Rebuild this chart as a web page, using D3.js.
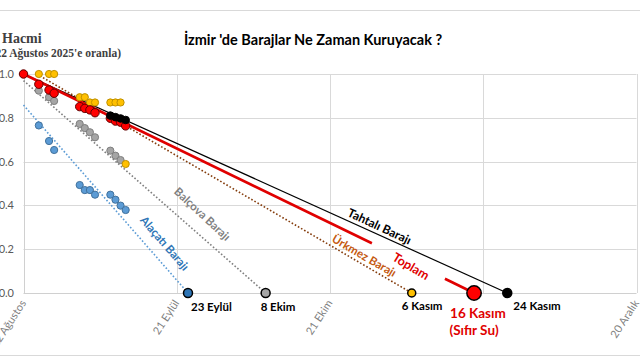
<!DOCTYPE html>
<html><head><meta charset="utf-8">
<script src="https://cdn.jsdelivr.net/npm/d3@7/dist/d3.min.js"></script>
<style>html,body{margin:0;padding:0;background:#fff;}svg{display:block;}</style>
</head><body>
<svg id="c" width="640" height="360"></svg>
<script>
// days since 22 Ağustos 2025
const days = [0, 3, 5, 6, 11, 12, 13, 14, 17, 18, 19, 20];
const toplam  = [1.0, 0.953, 0.927, 0.912, 0.851, 0.843, 0.836, 0.823, 0.798, 0.785, 0.78, 0.763];
const tahtali = [1.0, 0.955, 0.93, 0.915, 0.858, 0.85, 0.843, 0.835, 0.81, 0.803, 0.797, 0.79];
const balcovaDays = [0, 3, 5, 6, 11, 12, 13, 14, 17, 18, 19];
const balcova = [1.0, 0.924, 0.894, 0.877, 0.772, 0.753, 0.734, 0.711, 0.65, 0.627, 0.607];
const urkmezDays = [3, 5, 6, 11, 12, 13, 14, 17, 18, 19, 20];
const urkmez = [1.0, 1.0, 1.0, 0.894, 0.894, 0.87, 0.87, 0.87, 0.87, 0.87, 0.589];
const alacatiDays = [3, 5, 6, 11, 12, 13, 14, 17, 18, 19, 20];
const alacati = [0.765, 0.694, 0.653, 0.493, 0.47, 0.47, 0.449, 0.449, 0.426, 0.399, 0.379];

// projection lines [day, value]
const alacatiTrend = [[0, 0.858], [32.2, 0]];
const balcovaTrend = [[0, 0.97], [47.4, 0]];
const urkmezTrend = [[2.6, 1.0], [76, 0]];
const tahtaliTrend = [[0, 1.0], [94.7, 0]];
const toplamTrendSegments = [[[0, 1.0], [68.2, 0.227]], [[82.5, 0.065], [88.2, 0]]];

// dry-out end points
const endDays = [32.2, 47.4, 76, 88.2, 94.7];
const endLabels = ["23 Eylül", "8 Ekim", "6 Kasım", "16 Kasım", "24 Kasım"];

const xTicks = [0, 30, 60, 90, 120];
const xTickLabels = ["22 Ağustos", "21 Eylül", "21 Ekim", "", "20 Aralık"];
const yTicks = [0, 0.2, 0.4, 0.6, 0.8, 1.0];

const svg = d3.select("#c");
const W = 640, H = 360;
const x = d3.scaleLinear().domain([0, 120]).range([23.5, 636.5]);
const y = d3.scaleLinear().domain([0, 1]).range([293, 74]);

// frame lines
svg.append("line").attr("x1", 0).attr("x2", W).attr("y1", 10.5).attr("y2", 10.5).attr("stroke", "#d9d9d9");
svg.append("line").attr("x1", 0).attr("x2", W).attr("y1", 355.5).attr("y2", 355.5).attr("stroke", "#d9d9d9");

// gridlines
const g = svg.append("g");
g.selectAll(".hg").data(yTicks.filter(d => d > 0)).join("line")
  .attr("x1", x(0)).attr("x2", x(120)).attr("y1", d => Math.round(y(d)) + 0.5).attr("y2", d => Math.round(y(d)) + 0.5)
  .attr("stroke", "#d9d9d9").attr("stroke-width", 1);
g.selectAll(".vg").data(xTicks.filter(d => d > 0)).join("line")
  .attr("x1", d => Math.round(x(d)) + 0.5).attr("x2", d => Math.round(x(d)) + 0.5).attr("y1", y(1)).attr("y2", y(0))
  .attr("stroke", "#d9d9d9").attr("stroke-width", 1);
// axes lines
g.append("line").attr("x1", x(0)).attr("x2", x(120)).attr("y1", Math.round(y(0)) + 0.5).attr("y2", Math.round(y(0)) + 0.5).attr("stroke", "#d0d0d0");
g.append("line").attr("x1", Math.round(x(0)) + 0.5).attr("x2", Math.round(x(0)) + 0.5).attr("y1", y(1)).attr("y2", y(0)).attr("stroke", "#d0d0d0");

// y tick labels
svg.selectAll(".yl").data(yTicks).join("text")
  .attr("x", 14).attr("y", d => y(d) + 4)
  .attr("text-anchor", "end").attr("font-family", "Lato, sans-serif").attr("font-size", 11).attr("fill", "#595959")
  .text(d => d.toFixed(1));

// x tick labels rotated
svg.selectAll(".xl").data(xTicks.map((d, i) => ({d, t: xTickLabels[i]})).filter(o => o.t)).join("text")
  .attr("transform", o => `translate(${x(o.d) + 3},${303}) rotate(-57)`)
  .attr("text-anchor", "end").attr("font-family", "Lato, sans-serif").attr("font-size", 11).attr("fill", "#7f7f7f")
  .text(o => o.t);

// titles
svg.append("text").attr("x", 313).attr("y", 45).attr("text-anchor", "middle")
  .attr("font-family", "Lato, sans-serif").attr("font-weight", "bold").attr("font-size", 14.5).attr("fill", "#000")
  .text("İzmir 'de Barajlar Ne Zaman Kuruyacak ?");
svg.append("text").attr("x", 2).attr("y", 43)
  .attr("font-family", "'Liberation Serif', serif").attr("font-weight", "bold").attr("font-size", 14).attr("fill", "#404040")
  .text("Hacmi");
svg.append("text").attr("x", 121).attr("y", 57).attr("text-anchor", "end")
  .attr("font-family", "'Liberation Serif', serif").attr("font-weight", "bold").attr("font-size", 11.5).attr("fill", "#404040")
  .text("(22 Ağustos 2025'e oranla)");

const line = d3.line().x(d => x(d[0])).y(d => y(d[1]));

// projection lines
svg.append("path").attr("d", line(alacatiTrend)).attr("fill", "none").attr("stroke", "#5b9bd5").attr("stroke-width", 1.6).attr("stroke-dasharray", "1.6,2");
svg.append("path").attr("d", line(balcovaTrend)).attr("fill", "none").attr("stroke", "#7f7f7f").attr("stroke-width", 1.6).attr("stroke-dasharray", "1.6,2");
svg.append("path").attr("d", line(urkmezTrend)).attr("fill", "none").attr("stroke", "#843c0c").attr("stroke-width", 1.6).attr("stroke-dasharray", "1.6,2");
svg.append("path").attr("d", line(tahtaliTrend)).attr("fill", "none").attr("stroke", "#000").attr("stroke-width", 1.2);
toplamTrendSegments.forEach(s => {
  svg.append("path").attr("d", line(s)).attr("fill", "none").attr("stroke", "#e00000").attr("stroke-width", 2.6);
});

function dots(xs, vs, fill, stroke, r) {
  svg.append("g").selectAll("circle").data(vs).join("circle")
    .attr("cx", (d, i) => x(xs[i])).attr("cy", d => y(d)).attr("r", r)
    .attr("fill", fill).attr("stroke", stroke).attr("stroke-width", 1);
}
dots(alacatiDays, alacati, "#5b9bd5", "#41719c", 3.6);
dots(balcovaDays, balcova, "#a5a5a5", "#7f7f7f", 3.6);
dots(urkmezDays, urkmez, "#ffc000", "#bf9000", 3.6);
dots(days, toplam, "#ff0000", "#600000", 4.2);
dots(days.slice(8), tahtali.slice(8), "#000", "#000", 3.8);

// end points
const endStyle = [
  {fill: "#2e75b6", r: 4.5},
  {fill: "#a5a5a5", r: 4.5},
  {fill: "#ffc000", r: 4},
  {fill: "#ff0000", r: 7.2},
  {fill: "#000000", r: 4.5}
];
svg.append("g").selectAll("circle").data(endDays).join("circle")
  .attr("cx", d => x(d)).attr("cy", y(0)).attr("r", (d, i) => endStyle[i].r)
  .attr("fill", (d, i) => endStyle[i].fill).attr("stroke", "#000").attr("stroke-width", 1.5);

// end labels
const endOff = [[3, 18], [-5, 18], [-10, 17], [-24, 25], [6, 17]];
svg.selectAll(".el").data(endDays).join("text")
  .attr("x", (d, i) => x(d) + endOff[i][0]).attr("y", (d, i) => y(0) + endOff[i][1])
  .attr("font-family", "Lato, sans-serif").attr("font-weight", "bold")
  .attr("font-size", (d, i) => i === 3 ? 13.5 : 11.5)
  .attr("fill", (d, i) => i === 3 ? "#e00000" : "#000")
  .text((d, i) => endLabels[i]);
svg.append("text").attr("x", x(endDays[3])).attr("y", y(0) + 42).attr("text-anchor", "middle")
  .attr("font-family", "Lato, sans-serif").attr("font-weight", "bold").attr("font-size", 13.5).attr("fill", "#e00000")
  .text("(Sıfır Su)");

// series labels along lines
const seriesLabels = [
  {t: "Alaçatı Barajı", d: 26.3, v: 0.2, a: 49, c: "#2e75b6", dy: -5, s: 11.5},
  {t: "Balçova Barajı", d: 33.8, v: 0.33, a: 43, c: "#7f7f7f", dy: -5, s: 11.5},
  {t: "Tahtalı Barajı", d: 69, v: 0.27, a: 25, c: "#000", dy: -4, s: 12},
  {t: "Ürkmez Barajı", d: 65.9, v: 0.138, a: 30, c: "#c55a11", dy: -4, s: 11.5},
  {t: "Toplam", d: 75.8, v: 0.12, a: 31, c: "#e00000", dy: 4, s: 12.5}
];
svg.selectAll(".sl").data(seriesLabels).join("text")
  .attr("transform", o => `translate(${x(o.d)},${y(o.v)}) rotate(${o.a})`)
  .attr("text-anchor", "middle").attr("dy", o => o.dy)
  .attr("font-family", "Lato, sans-serif").attr("font-weight", "bold").attr("font-size", o => o.s).attr("fill", o => o.c)
  .text(o => o.t);
</script>
</body></html>
